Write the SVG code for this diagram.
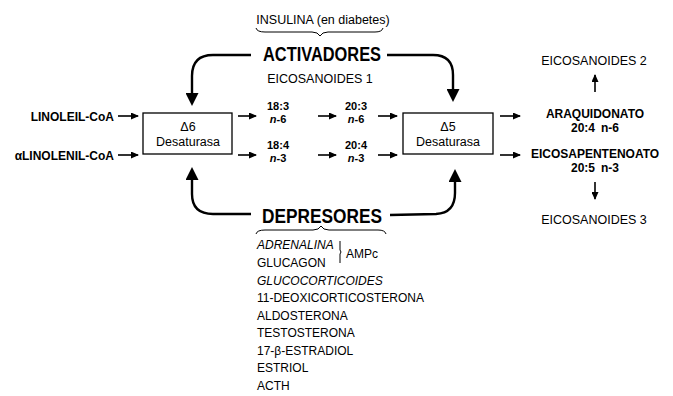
<svg xmlns="http://www.w3.org/2000/svg" width="673" height="396" viewBox="0 0 673 396">
<defs>
<marker id="sa" markerWidth="8" markerHeight="7" refX="7" refY="3.5" orient="auto" markerUnits="userSpaceOnUse">
<path d="M0,0 L8,3.5 L0,7 Z" fill="#000"/>
</marker>
<marker id="ba" markerWidth="14" markerHeight="13" refX="2" refY="6.5" orient="auto" markerUnits="userSpaceOnUse">
<path d="M0,0 L13,6.5 L0,13 Z" fill="#000"/>
</marker>
</defs>
<style>
text{font-family:"Liberation Sans",Arial,sans-serif;fill:#000}
.t{font-size:12.5px}
.l{font-size:12px}
.n{font-size:11px;font-weight:bold}
.b{font-weight:bold}
.big{font-size:21px;font-weight:bold}
.i{font-style:italic}
.box{fill:#fff;stroke:#000;stroke-width:1.3}
.sm{stroke:#000;stroke-width:1.6;fill:none;marker-end:url(#sa)}
.cv{stroke:#000;stroke-width:2.4;fill:none;marker-end:url(#ba)}
.br{stroke:#000;stroke-width:1;fill:none}
</style>

<g id="insulina">
<text class="t" x="323" y="24" text-anchor="middle">INSULINA (en diabetes)</text>
<path class="br" d="M256,28 Q257,32 265,32 L312,32 Q318,32 320,36 Q322,32 328,32 L375,32 Q382,32 383,28"/>
</g>
<g id="activadores">
<text class="big" x="322" y="61" text-anchor="middle" textLength="118" lengthAdjust="spacingAndGlyphs">ACTIVADORES</text>
</g>
<g id="eicosanoides1"><text class="t" x="320" y="83" text-anchor="middle">EICOSANOIDES 1</text></g>

<g id="linoleil"><text class="l b" x="114" y="121" text-anchor="end">LINOLEIL-CoA</text></g>
<g id="alinolenil"><text class="l b" x="114" y="160" text-anchor="end">αLINOLENIL-CoA</text></g>

<g id="d6">
<rect class="box" x="143" y="113" width="89" height="41"/>
<text class="t" x="188" y="131" text-anchor="middle">Δ6</text>
<text class="t" x="188" y="146" text-anchor="middle">Desaturasa</text>
</g>

<g id="c183"><text class="n" x="278" y="110" text-anchor="middle">18:3</text><text class="n" x="278" y="123" text-anchor="middle"><tspan class="i">n</tspan>-6</text></g>
<g id="c184"><text class="n" x="278" y="149" text-anchor="middle">18:4</text><text class="n" x="278" y="162" text-anchor="middle"><tspan class="i">n</tspan>-3</text></g>
<g id="c203"><text class="n" x="356" y="110" text-anchor="middle">20:3</text><text class="n" x="356" y="123" text-anchor="middle"><tspan class="i">n</tspan>-6</text></g>
<g id="c204"><text class="n" x="356" y="149" text-anchor="middle">20:4</text><text class="n" x="356" y="162" text-anchor="middle"><tspan class="i">n</tspan>-3</text></g>

<g id="d5">
<rect class="box" x="403" y="113" width="90" height="41"/>
<text class="t" x="448" y="131" text-anchor="middle">Δ5</text>
<text class="t" x="448" y="146" text-anchor="middle">Desaturasa</text>
</g>

<g id="eicosanoides2"><text class="t" x="594" y="65" text-anchor="middle">EICOSANOIDES 2</text></g>
<g id="araquidonato"><text class="l b" x="595" y="118" text-anchor="middle">ARAQUIDONATO</text><text class="l b" x="595" y="132" text-anchor="middle">20:4<tspan dx="6">n-6</tspan></text></g>
<g id="eicosapentenoato"><text class="l b" x="595" y="158" text-anchor="middle">EICOSAPENTENOATO</text><text class="l b" x="595" y="172" text-anchor="middle">20:5<tspan dx="6">n-3</tspan></text></g>
<g id="eicosanoides3"><text class="t" x="594" y="224" text-anchor="middle">EICOSANOIDES 3</text></g>

<g id="depresores">
<text class="big" x="322" y="223" text-anchor="middle" textLength="120" lengthAdjust="spacingAndGlyphs">DEPRESORES</text>
<path class="br" d="M256,234 Q257,230 265,230 L313,230 Q319,230 321,226 Q323,230 329,230 L378,230 Q385,230 386,234"/>
</g>

<g id="lista">
<text class="l i" x="257" y="249">ADRENALINA</text>
<text class="l" x="257" y="267">GLUCAGON</text>
<path class="br" d="M340,241 L340,250 L341,252 L340,254 L340,263"/>
<text class="l" x="346" y="258">AMPc</text>
<text class="l i" x="257" y="285">GLUCOCORTICOIDES</text>
<text class="l" x="257" y="302">11-DEOXICORTICOSTERONA</text>
<text class="l" x="257" y="320">ALDOSTERONA</text>
<text class="l" x="257" y="337">TESTOSTERONA</text>
<text class="l" x="257" y="355">17-β-ESTRADIOL</text>
<text class="l" x="257" y="372">ESTRIOL</text>
<text class="l" x="257" y="390">ACTH</text>
</g>

<g id="connectors">
<line class="sm" x1="118" y1="116" x2="138" y2="116"/>
<line class="sm" x1="118" y1="155" x2="138" y2="155"/>
<line class="sm" x1="238" y1="116" x2="256" y2="116"/>
<line class="sm" x1="238" y1="155" x2="256" y2="155"/>
<line class="sm" x1="318" y1="116" x2="336" y2="116"/>
<line class="sm" x1="318" y1="155" x2="336" y2="155"/>
<line class="sm" x1="378" y1="116" x2="397" y2="116"/>
<line class="sm" x1="378" y1="155" x2="397" y2="155"/>
<line class="sm" x1="500" y1="116" x2="520" y2="116"/>
<line class="sm" x1="500" y1="155" x2="520" y2="155"/>
<line class="sm" x1="595" y1="92" x2="595" y2="75"/>
<line class="sm" x1="595" y1="182" x2="595" y2="199"/>
<path class="cv" d="M251,55 L213,55 Q192,55 192,76 L192,95"/>
<path class="cv" d="M387,55 L433,55 Q453,55 453,75 L453,91"/>
<path class="cv" d="M251,214 L213,214 Q192,214 192,194 L192,178"/>
<path class="cv" d="M390,215 L436,214 Q455,213 455,193 L455,180"/>
</g>
</svg>
